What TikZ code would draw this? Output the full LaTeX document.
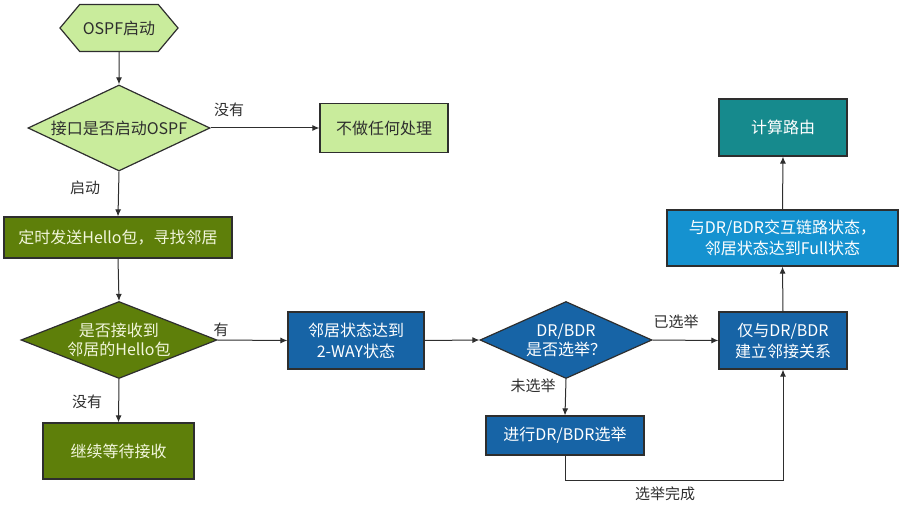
\documentclass[tikz,border=0pt]{standalone}
\usepackage{fontspec}
\setmainfont{Noto Sans CJK SC}
\usepackage{tikz}
\usetikzlibrary{arrows.meta,positioning,shapes.geometric,shapes.symbols}
\definecolor{leaf}{HTML}{C9EC9C}
\definecolor{olive}{HTML}{5E7F0A}
\definecolor{deepblue}{HTML}{1764A6}
\definecolor{lightblue}{HTML}{1592D0}
\definecolor{teal}{HTML}{168A8D}
\definecolor{ink}{HTML}{2E2E2E}
\definecolor{paletext}{HTML}{F2F6DC}

\begin{document}
\begin{tikzpicture}[x=1pt,y=-1pt,
  box/.style={draw=ink,line width=1.2pt,inner sep=2pt,align=center,font=\fontsize{16}{21}\selectfont},
  lightbox/.style={box,fill=leaf,text=ink},
  olivebox/.style={box,fill=olive,text=paletext},
  bluebox/.style={box,fill=deepblue,text=white},
  flow/.style={draw=ink,line width=1pt,-{Latex[length=7pt,width=6pt]}},
  tag/.style={font=\fontsize{15}{18}\selectfont,text=ink}]
  \useasboundingbox (0,0) rectangle (903,508);
  % left column
  \node[lightbox,signal,signal to=west and east,signal pointer angle=100,minimum width=118pt,minimum height=47pt] (start) at (119,28) {OSPF启动};
  \node[lightbox,diamond,aspect=2.1,inner sep=0pt,minimum width=182pt,minimum height=86pt] (ifup) at (119,128) {接口是否启动OSPF};
  \node[lightbox,minimum width=128pt,minimum height=49pt] (nothing) at (384,128) {不做任何处理};
  \node[olivebox,minimum width=228pt,minimum height=41pt] (hello) at (118,237.5) {定时发送Hello包，寻找邻居};
  \node[olivebox,diamond,aspect=2.5,inner sep=0pt,minimum width=196pt,minimum height=77pt,font=\fontsize{16}{19}\selectfont] (recv) at (119,340) {是否接收到\\邻居的Hello包};
  \node[olivebox,minimum width=151pt,minimum height=56pt] (wait) at (118.5,451) {继续等待接收};
  % middle and right
  \node[bluebox,minimum width=136pt,minimum height=57pt] (twoway) at (356,340.5) {邻居状态达到\\2-WAY状态};
  \node[bluebox,diamond,aspect=2.2,inner sep=0pt,minimum width=172pt,minimum height=77pt,font=\fontsize{16}{19}\selectfont] (drq) at (566,340) {DR/BDR\\是否选举？};
  \node[bluebox,minimum width=158pt,minimum height=39pt] (elect) at (565,435.5) {进行DR/BDR选举};
  \node[bluebox,minimum width=128pt,minimum height=57pt] (adj) at (783,340.5) {仅与DR/BDR\\建立邻接关系};
  \node[box,fill=lightblue,text=white,minimum width=231pt,minimum height=56pt] (full) at (782.5,238) {与DR/BDR交互链路状态，\\邻居状态达到Full状态};
  \node[box,fill=teal,text=white,minimum width=128pt,minimum height=57pt] (route) at (783,127.5) {计算路由};
  % connectors
  \draw[flow] (start) -- (ifup);
  \draw[flow] (ifup.east) -- (nothing.west);
  \draw[flow] (ifup.south) -- (hello.north);
  \draw[flow] (hello.south) -- (recv.north);
  \draw[flow] (recv.east) -- (twoway.west);
  \draw[flow] (recv.south) -- (wait.north);
  \draw[flow] (twoway.east) -- (drq.west);
  \draw[flow] (drq.east) -- (adj.west);
  \draw[flow] (drq.south) -- (elect.north);
  \draw[flow] (elect.south) -- ++(0,25) -| (adj.south);
  \draw[flow] (adj.north) -- (full.south);
  \draw[flow] (full.north) -- (route.south);
  % labels
  \node[tag] (noup) at (229,110) {没有};
  \node[tag] (up) at (85,188) {启动};
  \node[tag] (got) at (221,330) {有};
  \node[tag] (notgot) at (87,402) {没有};
  \node[tag] (done) at (676,322) {已选举};
  \node[tag] (notdone) at (533,386) {未选举};
  \node[tag] (finish) at (665,494) {选举完成};
\end{tikzpicture}
\end{document}
